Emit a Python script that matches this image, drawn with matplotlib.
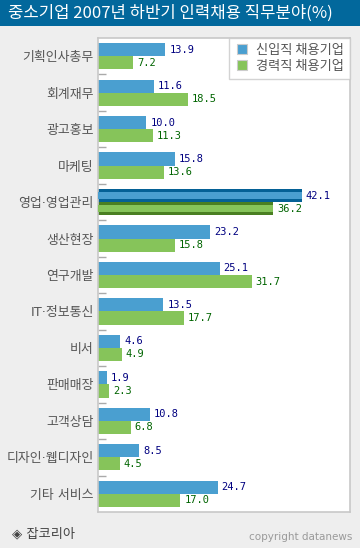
import matplotlib
matplotlib.use("Agg")
import matplotlib.pyplot as plt
from matplotlib.lines import Line2D
import numpy as np

plt.rcParams['font.family'] = ['Noto Sans CJK KR', 'DejaVu Sans']

title = "중소기업 2007년 하반기 인력채용 직무분야(%)"
categories = ["기획인사총무", "회계재무", "광고홍보", "마케팅", "영업·영업관리", "생산현장",
              "연구개발", "IT·정보통신", "비서", "판매매장", "고객상담", "디자인·웹디자인", "기타 서비스"]
new_hire = [13.9, 11.6, 10.0, 15.8, 42.1, 23.2, 25.1, 13.5, 4.6, 1.9, 10.8, 8.5, 24.7]
experienced = [7.2, 18.5, 11.3, 13.6, 36.2, 15.8, 31.7, 17.7, 4.9, 2.3, 6.8, 4.5, 17.0]
series_names = ["신입직 채용기업", "경력직 채용기업"]
highlight = "영업·영업관리"

W, H = 360, 548
fig = plt.figure(figsize=(W / 100, H / 100), dpi=100)
fig.patch.set_facecolor("#eeeeee")

# title bar
fig.patches.append(plt.Rectangle((0, 1 - 26 / H), 1, 26 / H, transform=fig.transFigure,
                                 facecolor="#02689c", edgecolor="none", zorder=0))
fig.text(8 / W, 1 - 13.5 / H, title, color="white", fontsize=12, va="center", ha="left")

left, top, right, bottom = 98, 38, 350, 512
ax = fig.add_axes([left / W, (H - bottom) / H, (right - left) / W, (bottom - top) / H])
ax.set_facecolor("white")

blue, green = "#4a9fd0", "#86c45a"
dblue, dgreen = "#046196", "#4a7f22"
n = len(categories)
y = np.arange(n)
h = 0.36
px = 1 / 36.46  # one pixel in data units (y)

for i, cat in enumerate(categories):
    yb = i - h / 2
    yg = i + h / 2
    if cat == highlight:
        ax.barh(yb, new_hire[i], height=h, color=dblue, zorder=2)
        ax.barh(yb, new_hire[i], height=h - 6 * px, color=blue, zorder=3)
        ax.barh(yg, experienced[i], height=h, color=dgreen, zorder=2)
        ax.barh(yg, experienced[i], height=h - 6 * px, color=green, zorder=3)
    else:
        ax.barh(yb, new_hire[i], height=h, color=blue, zorder=2)
        ax.barh(yg, experienced[i], height=h, color=green, zorder=2)
    ax.text(new_hire[i] + 0.8, yb, f"{new_hire[i]:.1f}", color="#000080", va="center", ha="left",
            fontsize=7.5, family="DejaVu Sans Mono", zorder=4)
    ax.text(experienced[i] + 0.8, yg, f"{experienced[i]:.1f}", color="#006400", va="center", ha="left",
            fontsize=7.5, family="DejaVu Sans Mono", zorder=4)

ax.set_xlim(0, 52)
ax.set_ylim(n - 0.5, -0.5)
ax.set_xticks([])
ax.set_yticks(y)
ax.set_yticklabels(categories, color="#555555", fontsize=9.3, family=["DejaVu Sans", "Noto Sans CJK KR"])
ax.tick_params(axis="y", which="major", length=0, pad=3)
ax.set_yticks(np.arange(0.5, n - 1, 1), minor=True)
ax.tick_params(axis="y", which="minor", direction="in", length=6, color="#aaaaaa", width=1)
for s in ax.spines.values():
    s.set_color("#c8c8c8")
    s.set_linewidth(1.2)

handles = [Line2D([], [], marker="s", linestyle="none", markersize=7, markerfacecolor=blue,
                  markeredgecolor="#cccccc", markeredgewidth=0.8),
           Line2D([], [], marker="s", linestyle="none", markersize=7, markerfacecolor=green,
                  markeredgecolor="#cccccc", markeredgewidth=0.8)]
leg = ax.legend(handles, series_names, loc="upper right", bbox_to_anchor=(1, 1), borderaxespad=0,
                frameon=True, fancybox=False, fontsize=9.5, handletextpad=0.6, labelspacing=0.2,
                borderpad=0.45, handlelength=1.0)
leg.get_frame().set_edgecolor("#c8c8c8")
leg.get_frame().set_linewidth(1)
for t in leg.get_texts():
    t.set_color("#555555")

fig.text(12 / W, 1 - 534 / H, "◈ 잡코리아", color="#444444", fontsize=9.5, va="center", ha="left",
         family=["DejaVu Sans", "Noto Sans CJK KR"])
fig.text(352 / W, 1 - 537 / H, "copyright datanews", color="#9a9a9a", fontsize=7.5, va="center", ha="right",
         family="DejaVu Sans")

fig.savefig("out.png", dpi=100, facecolor=fig.get_facecolor())
